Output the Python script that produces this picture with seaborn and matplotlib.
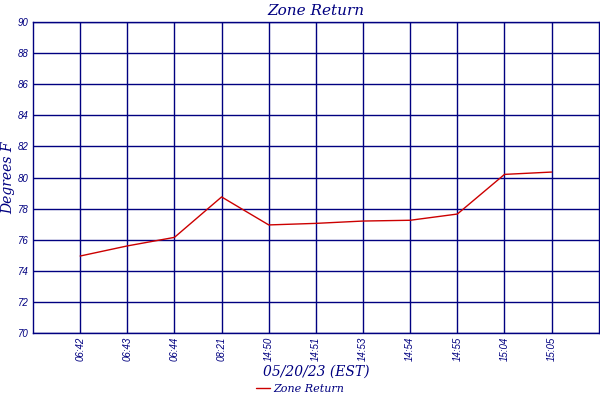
"""Zone return temperature trend chart."""

import matplotlib
matplotlib.use("Agg")
import matplotlib.pyplot as plt
import numpy as np
import pandas as pd
import seaborn as sns

TIMES = ["06:42", "06:43", "06:44", "08:21", "14:50", "14:51",
         "14:53", "14:54", "14:55", "15:04", "15:05"]
ZONE_RETURN = [74.95, 75.6, 76.15, 78.75, 76.95, 77.05,
               77.2, 77.25, 77.65, 80.2, 80.35]
Y_TICKS = list(range(70, 91, 2))

NAVY = "#000080"
RED = "#cc0000"

sns.set_theme(style="white")
plt.rcParams["font.family"] = ["DejaVu Serif"]

df = pd.DataFrame({"pos": np.arange(1, len(TIMES) + 1), "temp": ZONE_RETURN})

fig = plt.figure(figsize=(6, 4), dpi=100)
ax = fig.add_axes([0.055, 0.1675, 0.943, 0.7775])

sns.lineplot(data=df, x="pos", y="temp", color=RED, linewidth=1.0, ax=ax, label="Zone Return", legend=False)

ax.set_xlim(0, len(TIMES) + 1)
ax.set_ylim(70, 90)
ax.set_xticks(df["pos"])
ax.set_xticklabels(TIMES, rotation=90, fontsize=7, style="italic", color=NAVY, family="Liberation Sans")
ax.set_yticks(Y_TICKS)
ax.set_yticklabels([str(v) for v in Y_TICKS], fontsize=7, style="italic", color=NAVY, family="Liberation Sans")
ax.tick_params(length=0, pad=3)
ax.grid(True, color=NAVY, linewidth=1.0)
ax.set_axisbelow(True)
for spine in ax.spines.values():
    spine.set_color(NAVY)
    spine.set_linewidth(1.0)

ax.set_xlabel("05/20/23 (EST)", fontsize=10, style="italic", color=NAVY, labelpad=2)
ax.set_ylabel("Degrees F", fontsize=10, style="italic", color=NAVY, labelpad=2)
ax.set_title("Zone Return", fontsize=11, style="italic", color=NAVY, pad=5)

handles, labels = ax.get_legend_handles_labels()
leg = fig.legend(handles, labels, loc="lower center", bbox_to_anchor=(0.5, -0.01), frameon=False,
                 handlelength=1.2, handletextpad=0.3, prop={"style": "italic", "size": 8})
for text in leg.get_texts():
    text.set_color(NAVY)

fig.savefig("out.png", dpi=100)
